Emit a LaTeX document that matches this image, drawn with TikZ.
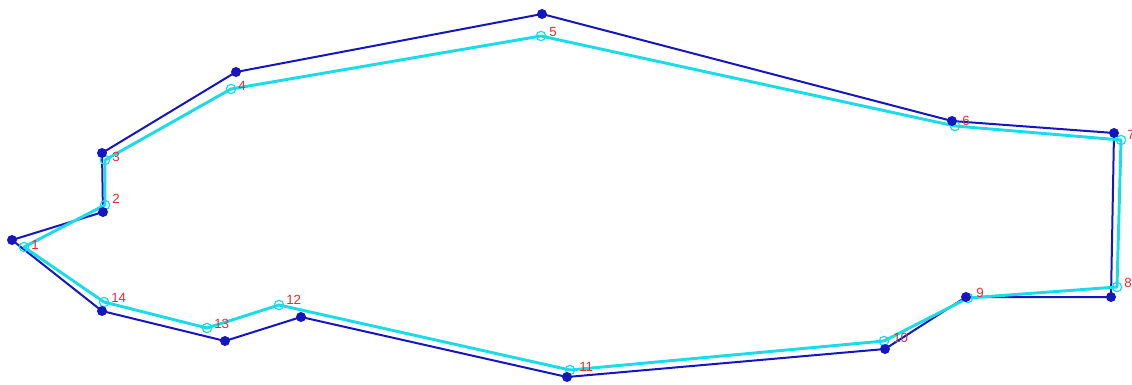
\documentclass[tikz,border=0pt]{standalone}
\usepackage{fontspec}
\setmainfont{Liberation Sans}
\definecolor{dblue}{RGB}{22,22,190}
\definecolor{lcyan}{RGB}{25,220,232}
\definecolor{lred}{RGB}{228,45,45}
\tikzset{
  bline/.style={draw=dblue,line width=1.5pt,line join=round},
  cline/.style={draw=lcyan,line width=2.2pt,line join=round},
  bdot/.style={circle,fill=dblue,inner sep=0pt,minimum size=7.5pt},
  cdot/.style={circle,draw=lcyan,line width=0.9pt,inner sep=0pt,minimum size=7pt},
  lab/.style={text=lred,font=\fontsize{10}{12}\selectfont,anchor=west,inner sep=0pt}
}
\begin{document}
\begin{tikzpicture}[x=0.75pt,y=-0.75pt]
\useasboundingbox (0,0) rectangle (1132,385);
% blue polygon
\coordinate (b1) at (12,240);
\coordinate (b2) at (103,212);
\coordinate (b3) at (102,153);
\coordinate (b4) at (236,72);
\coordinate (b5) at (542,14);
\coordinate (b6) at (952,121);
\coordinate (b7) at (1114,133);
\coordinate (b8) at (1111,297);
\coordinate (b9) at (966,297);
\coordinate (b10) at (885,349);
\coordinate (b11) at (567,377);
\coordinate (b12) at (301,317);
\coordinate (b13) at (225,341);
\coordinate (b14) at (102,311);
% cyan polygon
\coordinate (c1) at (24,247);
\coordinate (c2) at (105,205);
\coordinate (c3) at (105,160);
\coordinate (c4) at (231,89);
\coordinate (c5) at (541,36);
\coordinate (c6) at (955,126);
\coordinate (c7) at (1121,140);
\coordinate (c8) at (1117,287);
\coordinate (c9) at (968,298);
\coordinate (c10) at (884,341);
\coordinate (c11) at (570,370);
\coordinate (c12) at (279,305);
\coordinate (c13) at (207,328);
\coordinate (c14) at (104,302);
\draw[bline] (b1) -- (b2) -- (b3) -- (b4) -- (b5) -- (b6) -- (b7) -- (b8) -- (b9) -- (b10) -- (b11) -- (b12) -- (b13) -- (b14) -- cycle;
\draw[cline] (c1) -- (c2) -- (c3) -- (c4) -- (c5) -- (c6) -- (c7) -- (c8) -- (c9) -- (c10) -- (c11) -- (c12) -- (c13) -- (c14) -- cycle;
\foreach \i in {1,...,14} {
  \node[cdot] (cc\i) at (c\i) {};
}
\foreach \i in {1,...,14} {
  \node[bdot] (bb\i) at (b\i) {};
}
\node[lab] (l1) at (31,245) {1};
\node[lab] (l2) at (112,199) {2};
\node[lab] (l3) at (112,157) {3};
\node[lab] (l4) at (238,86) {4};
\node[lab] (l5) at (549,32) {5};
\node[lab] (l6) at (962,121) {6};
\node[lab] (l7) at (1127,135) {7};
\node[lab] (l8) at (1124,283) {8};
\node[lab] (l9) at (976,293) {9};
\node[lab] (l10) at (893,338) {10};
\node[lab] (l11) at (579,367) {11};
\node[lab] (l12) at (286,300) {12};
\node[lab] (l13) at (214,324) {13};
\node[lab] (l14) at (111,298) {14};
\end{tikzpicture}
\end{document}
